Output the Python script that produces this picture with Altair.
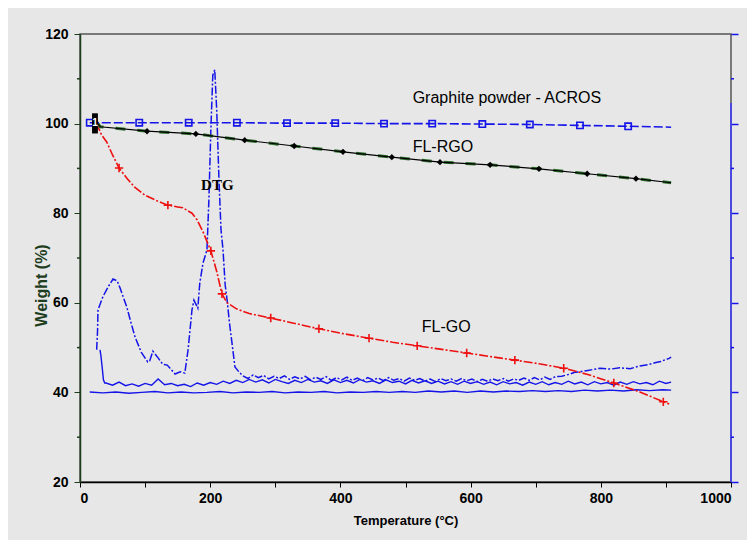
import altair as alt
import pandas as pd

# ---------------- data ----------------
# Graphite powder - ACROS (TGA)
gr_T = [15, 91, 167, 241, 318, 392, 467, 541, 618, 691, 768, 842, 908]
gr_W = [100.2, 100.2, 100.2, 100.2, 100.1, 100.1, 100.0, 100.0, 99.9, 99.8, 99.6, 99.4, 99.2]
gr_mark_T = [15, 91, 167, 241, 318, 392, 467, 541, 618, 691, 768, 842]
gr_mark_W = [100.2, 100.2, 100.2, 100.2, 100.1, 100.1, 100.0, 100.0, 99.9, 99.8, 99.6, 99.4]

# FL-RGO (TGA)
rgo_T = [25, 31, 103, 178, 253, 329, 404, 479, 553, 630, 705, 779, 854, 908]
rgo_W = [100.5, 99.3, 98.3, 97.7, 96.3, 95.0, 93.7, 92.5, 91.4, 90.8, 89.9, 88.8, 87.7, 86.8]
rgo_mark_T = [103, 178, 253, 329, 404, 479, 553, 630, 705, 779, 854]
rgo_mark_W = [98.3, 97.7, 96.3, 95.0, 93.7, 92.5, 91.4, 90.8, 89.9, 88.8, 87.7]

# FL-GO (TGA)
go_T = [25, 33, 41, 50, 60, 72, 84, 100, 118, 135, 150, 158, 172, 180, 190, 201, 210, 218,
        226, 241, 260, 293, 330, 367, 405, 444, 480, 518, 556, 594, 630, 668, 705, 743,
        780, 820, 860, 896, 905]
go_W = [100.2, 97.5, 95.9, 93.0, 90.1, 87.8, 85.8, 84.0, 82.8, 81.8, 81.4, 81.2, 80.0, 78.5,
        75.5, 71.6, 67.0, 62.0, 60.0, 58.6, 57.6, 56.6, 55.4, 54.2, 53.1, 52.1, 51.2, 50.4,
        49.6, 48.8, 48.0, 47.2, 46.4, 45.4, 44.0, 42.1, 40.1, 37.9, 37.4]
go_mark_T = [60, 135, 201, 218, 293, 367, 444, 518, 594, 668, 743, 820, 896]
go_mark_W = [90.1, 81.8, 71.6, 62.0, 56.6, 54.2, 52.1, 50.4, 48.8, 47.2, 45.4, 42.1, 37.9]

# DTG curve of FL-GO
dtgA_T = [25.6, 27, 27.6, 35, 43, 50.7, 57, 61, 72, 78, 84.5, 94, 104, 107, 112, 120, 127, 134,
          146, 154, 161, 166, 169, 172, 175, 181, 184, 189, 195, 198, 201, 204, 207, 210, 213.5,
          216.6, 219.7, 223, 226, 230, 233.5, 238, 244,
          250, 258, 266, 274, 282, 290, 298, 306, 314, 322, 330, 338, 346, 354, 362, 370, 378,
          386, 394, 402, 410, 418, 426, 434, 442, 450, 458, 466, 474, 482, 490, 498, 506, 514,
          522, 530, 538, 546, 554, 562, 570, 578, 586, 594, 602, 610, 618, 626, 634, 642, 650,
          658, 666, 674, 682, 690, 698, 706, 714, 722, 730,
          740, 753, 760, 768, 780, 799, 815, 829, 845, 860, 872, 883, 892, 899, 905, 908]
dtgA_W = [49.5, 53.9, 58.4, 61.3, 63.5, 65.3, 64.9, 63.5, 59.0, 55.7, 52.4, 49.0, 46.8, 47.0,
          49.2, 47.7, 46.3, 46.1, 44.1, 44.6, 44.3, 49.5, 53.9, 58.4, 60.6, 58.8, 64.4, 68.9,
          71.8, 83.0, 98.6, 110.8, 112.0, 103.0, 87.4, 76.3, 71.8, 64.0, 60.6, 55.0, 51.0, 45.7,
          44.6,
          43.7, 43.1, 43.9, 43.3, 43.8, 43.0, 43.6, 43.1, 43.7, 42.9, 43.5, 43.0, 43.6, 42.8,
          43.4, 42.9, 43.5, 42.7, 43.3, 42.8, 43.4, 42.7, 43.2, 42.6, 43.3, 42.8, 43.2, 42.6,
          43.3, 42.7, 43.1, 42.5, 43.2, 42.7, 43.1, 42.5, 43.0, 42.4, 43.1, 42.6, 43.0, 42.5,
          43.1, 42.6, 43.0, 42.4, 42.9, 42.5, 43.0, 42.6, 43.1, 42.5, 43.0, 42.7, 43.2, 42.7,
          43.3, 42.8, 43.4, 42.9, 43.5,
          43.6, 44.1, 44.5, 44.6, 44.9, 45.4, 45.2, 45.5, 45.3, 45.9, 46.2, 46.6, 46.9, 47.3,
          47.6, 47.9]

# DTG curve of FL-RGO
dtgB_T = [30.7, 32, 34, 36, 38] + list(range(40, 901, 10)) + [908]
dtgB_W = [49.5, 48.3, 45.7, 42.8, 42.1,
          42.1, 41.6, 42.3, 41.5, 41.9, 41.4, 42.0, 41.6, 43.0, 41.7, 42.0, 41.5, 41.8, 41.3,
          42.1, 41.6, 42.2, 41.8, 42.5, 42.0, 42.7, 42.2, 42.9, 42.3, 42.8, 42.1, 42.9, 42.4,
          42.0, 42.7, 42.2, 42.9, 42.3, 42.6, 42.0, 42.8, 42.2, 42.7, 42.1, 42.9, 42.3, 42.6,
          42.0, 42.8, 42.2, 42.5, 41.9, 42.7, 42.1, 42.6, 42.0, 42.5, 41.9, 42.4, 41.8, 42.5,
          42.0, 42.4, 41.8, 42.3, 41.7, 42.4, 41.9, 42.2, 41.6, 42.3, 41.8, 42.4, 41.7, 42.2,
          41.8, 42.5, 41.9, 42.3, 41.7, 42.4, 41.9, 42.2, 41.6, 42.3, 41.8, 42.4, 41.9, 42.2,
          41.7, 42.5, 42.0, 42.3]

# DTG curve of graphite powder
dtgC_T = [15, 35, 55, 75, 95, 115, 135, 155, 175, 195, 215, 235, 255, 275, 295, 315, 335, 355,
          375, 395, 415, 435, 455, 475, 495, 515, 535, 555, 575, 595, 615, 635, 655, 675, 695,
          715, 735, 755, 775, 795, 815, 835, 855, 875, 895, 908]
dtgC_W = [40.1, 39.9, 40.1, 39.8, 40.0, 40.2, 39.9, 40.1, 39.9, 40.0, 40.2, 39.9, 40.1, 40.0,
          40.2, 39.9, 40.1, 40.0, 40.2, 39.9, 40.1, 40.0, 40.2, 40.0, 40.2, 40.0, 40.3, 40.1,
          40.3, 40.0, 40.3, 40.1, 40.3, 40.2, 40.4, 40.2, 40.4, 40.2, 40.5, 40.3, 40.5, 40.3,
          40.6, 40.4, 40.6, 40.5]

# curve labels
lab_text = ["Graphite powder - ACROS", "FL-RGO", "FL-GO"]
lab_T = [511, 511, 525]
lab_W = [104.6, 93.7, 53.5]
dtg_text = ["DTG"]
dtg_T = [186]
dtg_W = [85.2]

# start marker box
box_T = [18.5]
box_T2 = [27.5]
box_W = [97.8]
box_W2 = [102.3]

x_ticks = list(range(0, 1001, 100))
y_major = [20, 40, 60, 80, 100, 120]
y_minor = [30, 50, 70, 90, 110]

# ---------------- chart ----------------
W_PLOT, H_PLOT = 651, 448
SANS = "Liberation Sans, Arial"
BLUE = "#1414e8"
GREEN_AX = "#1e3d1e"

xs = alt.Scale(domain=[0, 1000], nice=False, zero=False)
ys = alt.Scale(domain=[20, 120], nice=False, zero=False)

x_axis = alt.Axis(values=x_ticks, format="d",
                  labelExpr="datum.value % 200 == 0 ? datum.label : ''",
                  domainColor="#000000", tickColor="#000000", tickSize=5, domainWidth=1.5,
                  labelFont=SANS, labelFontSize=14, labelFontWeight="bold",
                  labelColor="#000000", labelPadding=4, grid=False,
                  title="Temperature (°C)", titleFont=SANS, titleFontSize=13,
                  titleFontWeight="bold", titleColor="#000000", titlePadding=9)
y_axis = alt.Axis(values=y_major, format="d", domainColor=GREEN_AX, tickColor=GREEN_AX,
                  tickSize=6, domainWidth=1.5, labelFont=SANS, labelFontSize=14,
                  labelFontWeight="bold", labelColor="#000000", labelPadding=6, grid=False,
                  title="Weight (%)", titleFont=SANS, titleFontSize=16,
                  titleFontWeight="bold", titleColor=GREEN_AX, titleX=-39, titleY=251,
                  titleAlign="center", titleBaseline="middle", titleAngle=270)

X = alt.X("T:Q", scale=xs, axis=x_axis)
Y = alt.Y("W:Q", scale=ys, axis=y_axis)


def df(T, Wv):
    return pd.DataFrame({"T": T, "W": Wv, "i": list(range(len(T)))})


def line(T, Wv, color, width, dash=None):
    kw = dict(color=color, strokeWidth=width)
    if dash:
        kw["strokeDash"] = dash
    return alt.Chart(df(T, Wv)).mark_line(**kw).encode(x=X, y=Y, order="i:Q")


dtgC = line(dtgC_T, dtgC_W, BLUE, 1.4)
dtgB = line(dtgB_T, dtgB_W, BLUE, 1.4)
dtgA = line(dtgA_T, dtgA_W, BLUE, 1.5, [8, 2, 2, 2])
go_line = line(go_T, go_W, "#ee1010", 1.6, [9, 2, 2, 2])
rgo_green = line(rgo_T, rgo_W, "#2f6e2f", 3, [10, 12])
rgo_black = line(rgo_T, rgo_W, "#000000", 1.2)
gr_line = line(gr_T, gr_W, BLUE, 1.6, [9, 3])

plus = "M-1,0L1,0M0,-1L0,1"
go_pts = alt.Chart(df(go_mark_T, go_mark_W)).mark_point(
    shape=plus, filled=False, color="#ee1010", size=70, strokeWidth=1.6, opacity=1
).encode(x=X, y=Y)
rgo_pts = alt.Chart(df(rgo_mark_T, rgo_mark_W)).mark_point(
    shape="diamond", filled=True, color="#000000", size=40, opacity=1
).encode(x=X, y=Y)
gr_pts = alt.Chart(df(gr_mark_T, gr_mark_W)).mark_point(
    shape="square", filled=False, color=BLUE, size=40, strokeWidth=1.6, opacity=1
).encode(x=X, y=Y)

box = alt.Chart(pd.DataFrame({"T": box_T, "T2": box_T2, "W": box_W, "W2": box_W2})).mark_rect(
    color="#000000").encode(x=X, x2="T2:Q", y=Y, y2="W2:Q")
box_txt = alt.Chart(pd.DataFrame({"T": [23], "W": [100.05], "t": ["1"]})).mark_text(
    color="#ffffff", font=SANS, fontSize=10, fontWeight="bold",
    baseline="middle", align="center").encode(x=X, y=Y, text="t:N")

labels = alt.Chart(pd.DataFrame({"T": lab_T, "W": lab_W, "t": lab_text})).mark_text(
    font=SANS, fontSize=16, color="#000000", align="left", baseline="alphabetic"
).encode(x=X, y=Y, text="t:N")
dtg_lab = alt.Chart(pd.DataFrame({"T": dtg_T, "W": dtg_W, "t": dtg_text})).mark_text(
    font="Liberation Serif", fontSize=15, fontWeight="bold", color="#000000",
    align="left", baseline="alphabetic"
).encode(x=X, y=Y, text="t:N")

left_minor = alt.Chart(pd.DataFrame({"W": y_minor})).mark_rule(
    color=GREEN_AX, strokeWidth=1.5).encode(y=Y, x=alt.value(-3), x2=alt.value(0))

main = alt.layer(dtgC, dtgB, dtgA, go_line, rgo_green, rgo_black, gr_line,
                 go_pts, rgo_pts, gr_pts, box, box_txt, labels, dtg_lab, left_minor)

# right-hand axis (blue, no labels)
ys_r = alt.Scale(domain=[20, 120], nice=False, zero=False)
r_axis = alt.Axis(orient="right", values=y_major, labels=False, domain=False,
                  tickColor=BLUE, tickSize=7, tickWidth=1.5, grid=False, title=None)
right_rule = alt.Chart(pd.DataFrame({"R": [20], "R2": [104.6]})).mark_rule(
    color="#3a3aff", strokeWidth=1.5).encode(
    y=alt.Y("R:Q", scale=ys_r, axis=r_axis), y2="R2:Q", x=alt.value(W_PLOT))
right_minor = alt.Chart(pd.DataFrame({"R": y_minor})).mark_rule(
    color=BLUE, strokeWidth=1.5).encode(
    y=alt.Y("R:Q", scale=ys_r, axis=r_axis), x=alt.value(W_PLOT), x2=alt.value(W_PLOT + 3))
right = alt.layer(right_rule, right_minor)

chart = alt.layer(main, right).resolve_scale(y="independent").properties(
    width=W_PLOT, height=H_PLOT,
    autosize=alt.AutoSizeParams(type="none"),
    padding={"left": 72, "top": 26, "right": 16, "bottom": 58},
    background="#e7e7e7",
).configure_view(stroke="#555555", strokeWidth=1.5)

chart.save("out.html", embed_options={"renderer": "svg", "actions": False})
